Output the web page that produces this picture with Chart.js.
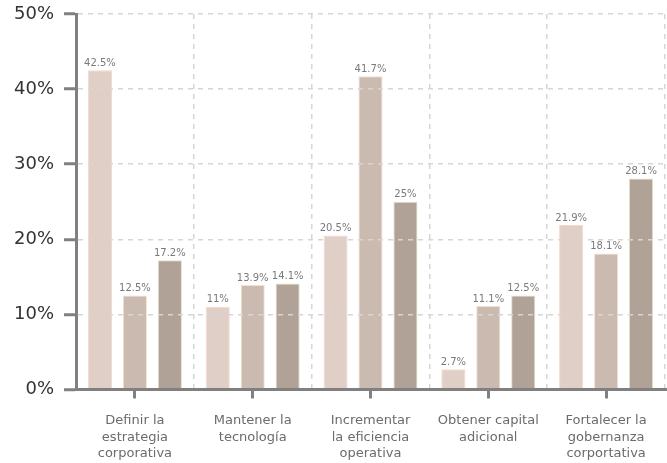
<!DOCTYPE html>
<html>
<head>
<meta charset="utf-8">
<script src="https://cdn.jsdelivr.net/npm/chart.js@4/dist/chart.umd.min.js"></script>
<style>
  html, body { margin: 0; padding: 0; background: #fff; }
  #wrap { width: 667px; height: 463px; }
</style>
</head>
<body>
<div id="wrap"><canvas id="chart1"></canvas></div>
<script>
var categories = [
  ['Definir la', 'estrategia', 'corporativa'],
  ['Mantener la', 'tecnología'],
  ['Incrementar', 'la eficiencia', 'operativa'],
  ['Obtener capital', 'adicional'],
  ['Fortalecer la', 'gobernanza', 'corportativa']
];
var serie1 = [42.5, 11, 20.5, 2.7, 21.9];
var serie2 = [12.5, 13.9, 41.7, 11.1, 18.1];
var serie3 = [17.2, 14.1, 25, 12.5, 28.1];
var yTicks = [0, 10, 20, 30, 40, 50];

var FONT = '"DejaVu Sans", sans-serif';

// etiquetas encima de cada barra
var valueLabels = {
  id: 'valueLabels',
  afterDatasetsDraw: function(chart) {
    var ctx = chart.ctx;
    ctx.save();
    ctx.font = '10px ' + FONT;
    ctx.fillStyle = '#7a7a7a';
    ctx.textAlign = 'center';
    ctx.textBaseline = 'bottom';
    chart.data.datasets.forEach(function(ds, i) {
      var meta = chart.getDatasetMeta(i);
      meta.data.forEach(function(bar, j) {
        ctx.fillText(ds.data[j] + '%', bar.x, bar.y - 2);
      });
    });
    ctx.restore();
  }
};

var datasets = [
  { label: 'Serie 1', data: serie1, backgroundColor: '#e0cfc7', borderColor: '#f5d9c8', borderWidth: 1 },
  { label: 'Serie 2', data: serie2, backgroundColor: '#cbbab0', borderColor: '#f0e2cc', borderWidth: 1 },
  { label: 'Serie 3', data: serie3, backgroundColor: '#b1a298', borderColor: '#e2ddc8', borderWidth: 1 }
];
datasets.forEach(function(d) {
  d.barPercentage = 0.69;
  d.categoryPercentage = 0.89;
});

new Chart(document.getElementById('chart1'), {
  type: 'bar',
  data: { labels: categories, datasets: datasets },
  plugins: [valueLabels],
  options: {
    responsive: true,
    maintainAspectRatio: false,
    animation: false,
    layout: { padding: { top: 0, right: 2, left: 4, bottom: -13 } },
    plugins: { legend: { display: false }, tooltip: { enabled: false } },
    scales: {
      x: {
        offset: true,
        grid: { offset: false, drawOnChartArea: false, drawTicks: true, tickLength: 9, color: '#808080', tickWidth: 3, lineWidth: 3 },
        border: { display: true, color: '#808080', width: 3, z: 2 },
        ticks: { color: '#6b6b6b', font: { family: FONT, size: 13, lineHeight: 1.27 }, padding: 14, maxRotation: 0, autoSkip: false }
      },
      // lineas verticales punteadas entre categorias
      x2: {
        position: 'bottom',
        offset: true,
        display: true,
        afterFit: function(axis) { axis.height = 0; },
        grid: {
          offset: true,
          drawTicks: false,
          lineWidth: 1.5,
          z: 1,
          color: function(c) { return c.index >= categories.length ? 'rgba(0,0,0,0)' : '#d6d6d6'; }
        },
        border: { display: false, dash: [5, 5] },
        ticks: { display: false }
      },
      y: {
        min: 0,
        max: 50,
        afterBuildTicks: function(axis) {
          axis.ticks = yTicks.map(function(v) { return { value: v }; });
        },
        afterFit: function(axis) { axis.paddingTop = 14; },
        grid: { color: '#d6d6d6', lineWidth: 1.5, z: 1, tickLength: 12, tickColor: '#808080', tickWidth: 3 },
        border: { display: true, color: '#808080', width: 3, dash: [5, 5], z: 2 },
        ticks: {
          color: '#333333',
          font: { family: FONT, size: 18 },
          padding: 10,
          callback: function(v) { return v + '%'; }
        }
      }
    }
  }
});
</script>
</body>
</html>
